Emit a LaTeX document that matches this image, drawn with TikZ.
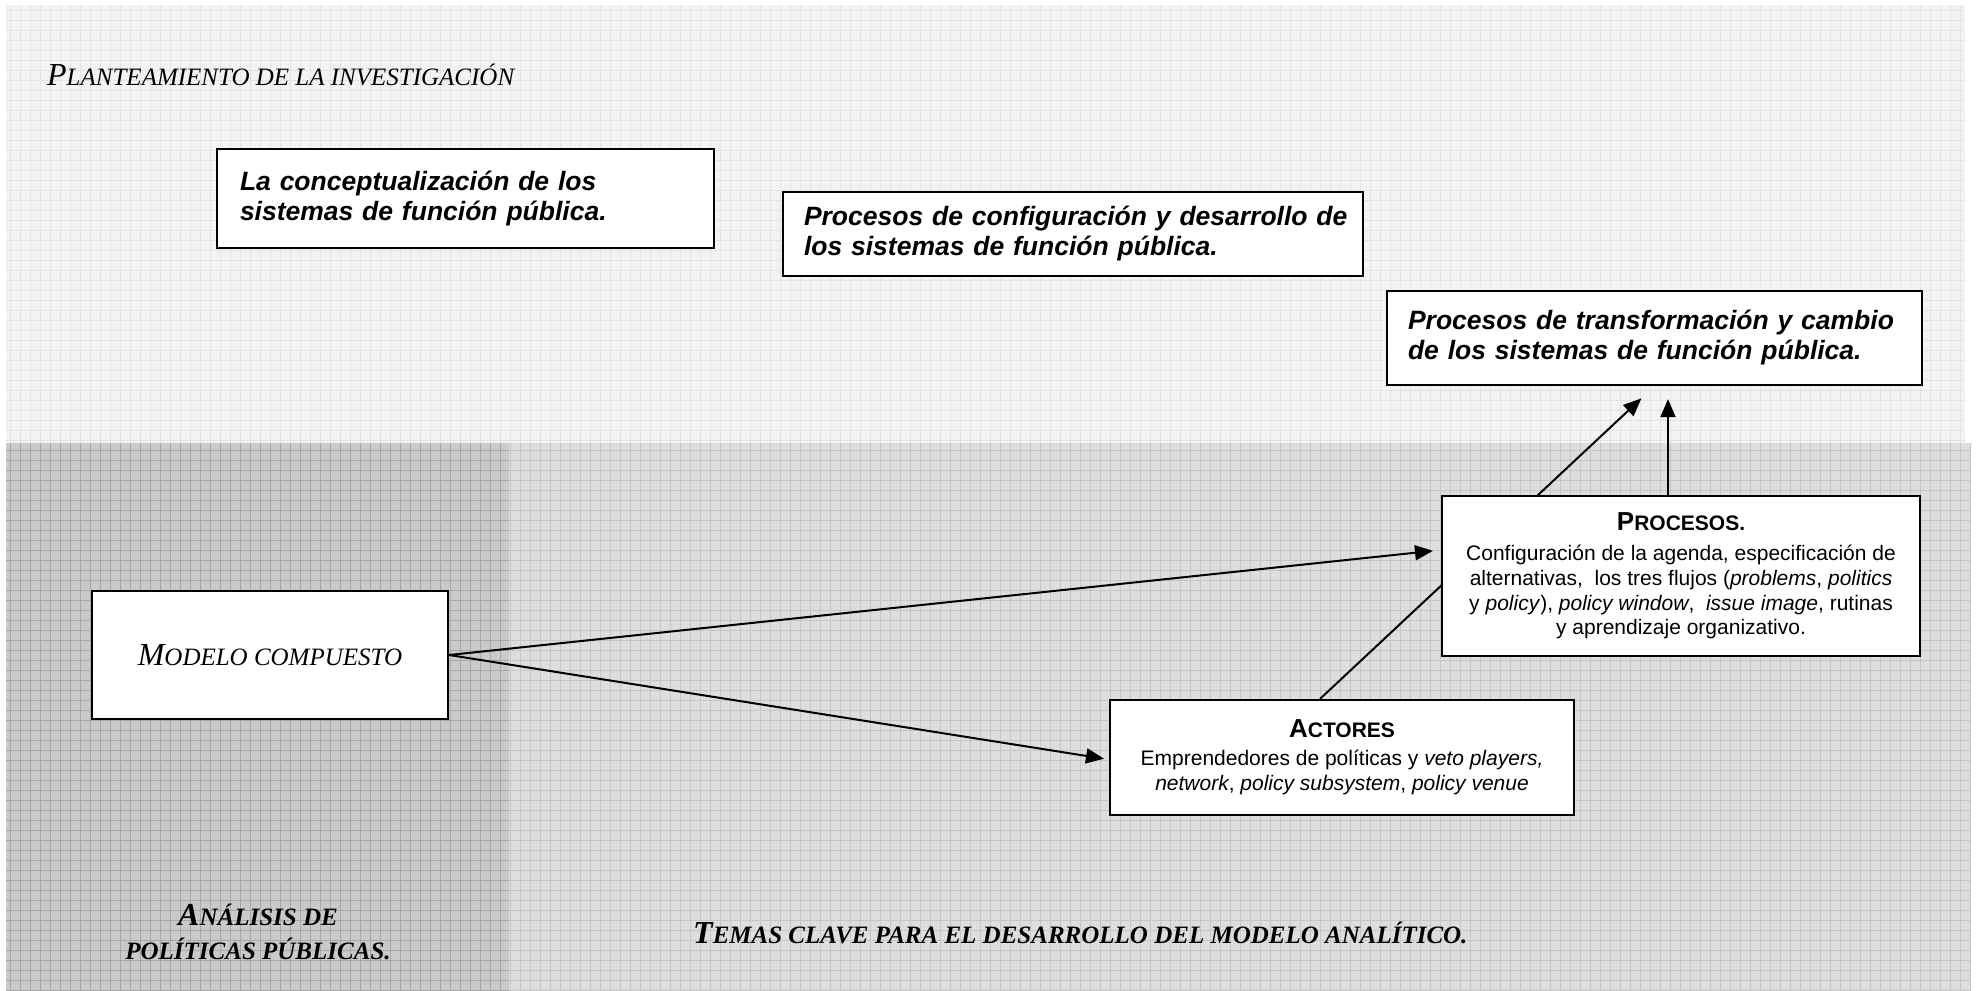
\documentclass[tikz,border=0pt]{standalone}
\usepackage{fontspec}
\setmainfont{Liberation Serif}
\setsansfont{Liberation Sans}
\usetikzlibrary{arrows.meta}

\pgfdeclarelayer{bg}
\pgfdeclarelayer{edges}
\pgfsetlayers{bg,edges,main}

\definecolor{topfill}{HTML}{F3F3F3}
\definecolor{topgrid}{HTML}{E3E3E3}
\definecolor{leftfill}{HTML}{CACACA}
\definecolor{leftgrid}{HTML}{A8A8A8}
\definecolor{rightfill}{HTML}{DEDEDE}
\definecolor{rightgrid}{HTML}{C6C6C6}

% initial capital and small-capital run, as in Word small caps
\newcommand\initcap[1]{{\fontsize{32}{34}\selectfont #1}}
\newcommand\sctext[1]{{\fontsize{25}{34}\selectfont #1}}

\tikzset{
  topicbox/.style={draw, line width=2.2pt, fill=white, align=left,
    font=\sffamily\bfseries\itshape\fontsize{26.5}{30}\selectfont},
  infobox/.style={draw, line width=2.2pt, fill=white, align=center,
    font=\sffamily\fontsize{21}{24.8}\selectfont},
  modelbox/.style={draw, line width=2.2pt, fill=white, font=\itshape},
  heading/.style={font=\itshape, inner sep=0pt},
  panellabel/.style={inner sep=0pt, align=center,
    font=\bfseries\itshape\fontsize{25}{34}\selectfont},
  link/.style={line width=2pt, -{Triangle[length=18pt,width=15pt]}},
}

\begin{document}
\begin{tikzpicture}[x=1pt,y=1pt]
\useasboundingbox (0,0) rectangle (1977,-990);

% background panels with their graph-paper grids
\begin{pgfonlayer}{bg}
  \fill[white] (0,0) rectangle (1977,-990);
  \fill[topfill] (6,-5) rectangle (1965,-443);
  \draw[topgrid, line width=0.9pt, step=10pt] (6,-5) grid (1965,-443);
  \fill[leftfill] (6,-443) rectangle (509,-990);
  \draw[leftgrid, line width=0.9pt, step=10pt] (6,-443) grid (509,-990);
  \fill[rightfill] (509,-443) rectangle (1971,-990);
  \draw[rightgrid, line width=0.9pt, step=10pt] (509,-443) grid (1971,-990);
\end{pgfonlayer}

% headings of the panels
\node[heading, anchor=base west] (title) at (47,-85)
  {\initcap{P}\sctext{LANTEAMIENTO DE LA INVESTIGACIÓN}};
\node[panellabel, anchor=center] (leftlabel) at (258,-932)
  {\initcap{A}\sctext{NÁLISIS DE}\\\sctext{POLÍTICAS PÚBLICAS.}};
\node[panellabel, anchor=base west] (rightlabel) at (693,-943)
  {\initcap{T}\sctext{EMAS CLAVE PARA EL DESARROLLO DEL MODELO ANALÍTICO.}};

% research topics
\node[topicbox, minimum width=497pt, minimum height=99pt,
      inner xsep=23pt, text width=451pt] (concept) at (465.5,-198.5)
  {La conceptualización de los\\sistemas de función pública.};
\node[topicbox, minimum width=580pt, minimum height=84pt,
      inner xsep=21pt, text width=538pt] (config) at (1073,-234)
  {\mbox{Procesos de configuración y desarrollo de}\\los sistemas de función pública.};
\node[topicbox, minimum width=535pt, minimum height=94pt,
      inner xsep=21pt, text width=493pt] (change) at (1654.5,-338)
  {Procesos de transformación y cambio\\de los sistemas de función pública.};

% analytical model
\node[modelbox, minimum width=356pt, minimum height=128pt] (modelo) at (270,-655)
  {\initcap{M}\sctext{ODELO COMPUESTO}};
\node[infobox, minimum width=478pt, minimum height=160pt] (procesos) at (1681,-576)
  {{\bfseries\fontsize{26}{30}\selectfont P\fontsize{21}{30}\selectfont ROCESOS.}\\[5pt]
   Configuración de la agenda, especificación de\\
   alternativas,\ \ los tres flujos (\textit{problems}, \textit{politics}\\
   y \textit{policy}), \textit{policy window},\ \ \textit{issue image}, rutinas\\
   y aprendizaje organizativo.};
\node[infobox, minimum width=464pt, minimum height=115pt] (actores) at (1342,-757.5)
  {{\bfseries\fontsize{26}{30}\selectfont A\fontsize{21}{30}\selectfont CTORES}\\[3pt]
   Emprendedores de políticas y \textit{veto players,}\\
   \textit{network}, \textit{policy subsystem}, \textit{policy venue}};

% connectors
\begin{pgfonlayer}{edges}
  \draw[link, shorten >=8pt] (modelo.east) -- ([yshift=26pt]procesos.west);
  \draw[link, shorten >=5pt] (modelo.east) -- ([yshift=-2pt]actores.west);
  \draw[link, shorten >=18pt] ([xshift=-22pt]actores.north) -- (change.south);
  \draw[link, shorten >=13pt] ([xshift=-13pt]procesos.north)
    -- ([xshift=-13pt]procesos.north |- change.south);
\end{pgfonlayer}
\end{tikzpicture}
\end{document}
